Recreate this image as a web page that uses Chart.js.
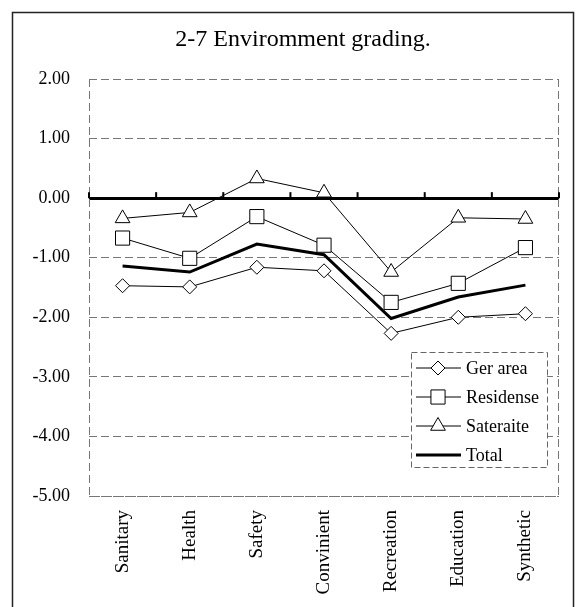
<!DOCTYPE html>
<html>
<head>
<meta charset="utf-8">
<title>Environment grading</title>
<script src="https://cdn.jsdelivr.net/npm/chart.js@4/dist/chart.umd.min.js"></script>
<style>
    body { margin: 0; background: #fff; }
    canvas { display: block; }
</style>
</head>
<body>
<canvas id="gradeChart" width="584" height="607"></canvas>
<script>
// Categories and values
const categories = ['Sanitary', 'Health', 'Safety', 'Convinient', 'Recreation', 'Education', 'Synthetic'];
const gerArea   = [-1.47, -1.49, -1.16, -1.22, -2.27, -2.00, -1.94];
const residense = [-0.67, -1.01, -0.31, -0.79, -1.75, -1.43, -0.83];
const sateraite = [-0.34, -0.24, 0.33, 0.09, -1.24, -0.33, -0.35];
const total     = [-1.14, -1.24, -0.77, -0.95, -2.02, -1.66, -1.46];
const yMin = -5;
const yMax = 2;
const chartTitle = '2-7 Enviromment grading.';

const serif = "'Liberation Serif', 'Times New Roman', serif";

// Outer page frame and the title (title sits a bit left of the plot centre)
const framePlugin = {
    id: 'frame',
    beforeDraw(chart) {
        const ctx = chart.ctx;
        ctx.save();
        ctx.fillStyle = '#fff';
        ctx.fillRect(0, 0, chart.width, chart.height);
        ctx.strokeStyle = '#222';
        ctx.lineWidth = 1.5;
        ctx.strokeRect(12.5, 12.5, 561, 620);
        ctx.fillStyle = '#000';
        ctx.font = '24px ' + serif;
        ctx.textAlign = 'center';
        ctx.textBaseline = 'middle';
        ctx.fillText(chartTitle, 303, 40);
        ctx.restore();
    }
};

// Dashed plot border plus the little category ticks on the zero line
const plotBoxPlugin = {
    id: 'plotBox',
    beforeDatasetsDraw(chart) {
        const ctx = chart.ctx;
        const a = chart.chartArea;
        const x = chart.scales.x;
        const y = chart.scales.y;
        ctx.save();
        ctx.strokeStyle = '#777';
        ctx.lineWidth = 1;
        ctx.setLineDash([8, 4]);
        ctx.beginPath();
        ctx.moveTo(a.left + 0.5, a.top);
        ctx.lineTo(a.left + 0.5, a.bottom + 0.5);
        ctx.lineTo(a.right - 0.5, a.bottom + 0.5);
        ctx.lineTo(a.right - 0.5, a.top);
        ctx.stroke();
        ctx.setLineDash([]);
        const y0 = y.getPixelForValue(0);
        ctx.strokeStyle = '#000';
        ctx.lineWidth = 2;
        for (let i = 0; i <= categories.length; i++) {
            const px = x.getPixelForValue(i - 0.5);
            ctx.beginPath();
            ctx.moveTo(px, y0);
            ctx.lineTo(px, y0 - 6);
            ctx.stroke();
        }
        ctx.restore();
    }
};

// Legend box drawn inside the plot, lower right
const legendPlugin = {
    id: 'boxLegend',
    afterDatasetsDraw(chart) {
        const ctx = chart.ctx;
        const a = chart.chartArea;
        const left = a.right - 148;
        const top = a.top + 273;
        ctx.save();
        ctx.fillStyle = '#fff';
        ctx.fillRect(left, top, 136, 115);
        ctx.strokeStyle = '#666';
        ctx.lineWidth = 1;
        ctx.setLineDash([6, 3]);
        ctx.strokeRect(left + 0.5, top + 0.5, 136, 115);
        ctx.setLineDash([]);
        ctx.font = '18px ' + serif;
        ctx.textBaseline = 'middle';
        chart.data.datasets.forEach((ds, i) => {
            const ry = top + 16 + i * 29;
            ctx.strokeStyle = '#000';
            ctx.lineWidth = ds.borderWidth;
            ctx.beginPath();
            ctx.moveTo(left + 5, ry);
            ctx.lineTo(left + 50, ry);
            ctx.stroke();
            if (ds.pointRadius > 0) {
                ctx.fillStyle = '#fff';
                ctx.lineWidth = 1;
                Chart.helpers.drawPoint(ctx, {
                    pointStyle: ds.pointStyle,
                    radius: ds.pointRadius,
                    rotation: 0,
                    borderWidth: 1
                }, left + 27, ry);
            }
            ctx.fillStyle = '#000';
            ctx.fillText(ds.label, left + 55, ry + 1);
        });
        ctx.restore();
    }
};

function seriesStyle(label, values, style, radius) {
    return {
        label: label,
        data: values,
        borderColor: '#000',
        borderWidth: 1,
        backgroundColor: '#fff',
        pointStyle: style,
        pointRadius: radius,
        pointHoverRadius: radius,
        pointBackgroundColor: '#fff',
        pointBorderColor: '#000',
        pointBorderWidth: 1,
        tension: 0
    };
}

const ctx = document.getElementById('gradeChart').getContext('2d');
new Chart(ctx, {
    type: 'line',
    data: {
        labels: categories,
        datasets: [
            seriesStyle('Ger area', gerArea, 'rectRot', 7),
            seriesStyle('Residense', residense, 'rect', 10),
            seriesStyle('Sateraite', sateraite, 'triangle', 8.5),
            {
                label: 'Total',
                data: total,
                borderColor: '#000',
                borderWidth: 3,
                pointRadius: 0,
                pointHoverRadius: 0,
                tension: 0
            }
        ]
    },
    options: {
        responsive: false,
        animation: false,
        layout: {
            padding: { left: 20, right: 25, top: 79, bottom: 0 }
        },
        plugins: {
            legend: { display: false },
            tooltip: { enabled: false },
            title: { display: false }
        },
        scales: {
            x: {
                offset: true,
                grid: { display: false, drawTicks: false, offset: true },
                border: { display: false },
                ticks: {
                    autoSkip: false,
                    minRotation: 90,
                    maxRotation: 90,
                    padding: 14,
                    color: '#000',
                    font: { family: serif, size: 19 }
                },
                afterFit(scale) { scale.height = 111; }
            },
            y: {
                min: yMin,
                max: yMax,
                ticks: {
                    stepSize: 1,
                    padding: 19,
                    color: '#000',
                    font: { family: serif, size: 18 },
                    callback: v => v.toFixed(2)
                },
                grid: {
                    drawTicks: false,
                    color: c => (c.tick && c.tick.value === 0 ? '#000' : '#777'),
                    lineWidth: c => (c.tick && c.tick.value === 0 ? 3 : 1)
                },
                border: {
                    display: false,
                    dash: c => (c.tick && c.tick.value === 0 ? [] : [8, 4])
                },
                afterFit(scale) { scale.width = 69; }
            }
        }
    },
    plugins: [framePlugin, plotBoxPlugin, legendPlugin]
});
</script>
</body>
</html>
